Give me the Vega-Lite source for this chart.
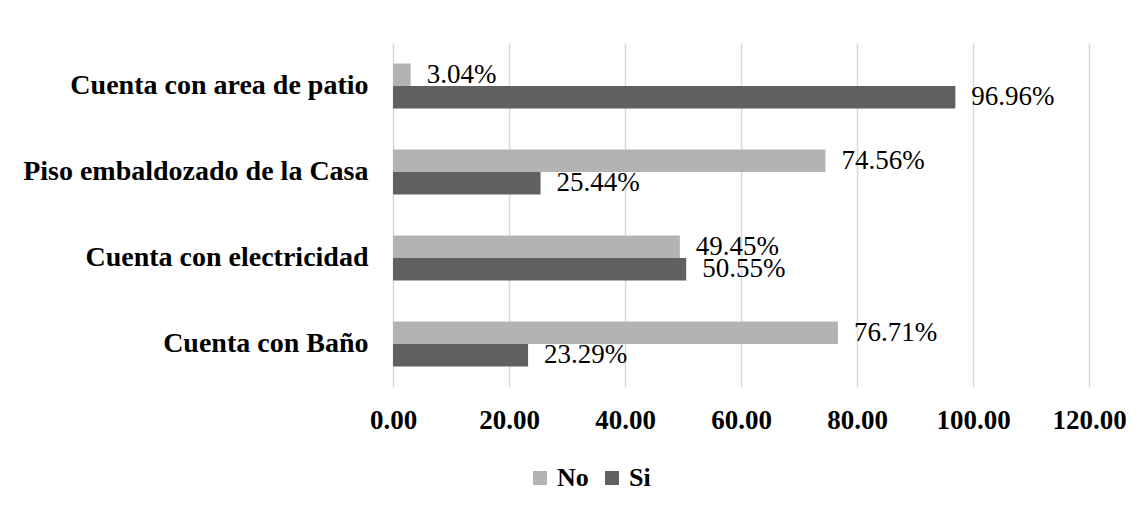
{
  "$schema": "https://vega.github.io/schema/vega-lite/v6.json",
  "width": 696,
  "height": 344,
  "autosize": {"type": "none"},
  "padding": {"left": 393, "top": 43, "right": 54, "bottom": 123},
  "background": "white",
  "config": {
    "view": {"stroke": null},
    "font": "Liberation Serif",
    "text": {"font": "'Liberation Serif', 'Times New Roman', serif"},
    "axis": {"labelFont": "Liberation Serif"},
    "legend": {"labelFont": "Liberation Serif"}
  },
  "data": {
    "values": [
      {"item": "Cuenta con area de patio", "respuesta": "No", "pct": 3.04},
      {"item": "Cuenta con area de patio", "respuesta": "Si", "pct": 96.96},
      {"item": "Piso embaldozado de la Casa", "respuesta": "No", "pct": 74.56},
      {"item": "Piso embaldozado de la Casa", "respuesta": "Si", "pct": 25.44},
      {"item": "Cuenta con electricidad", "respuesta": "No", "pct": 49.45},
      {"item": "Cuenta con electricidad", "respuesta": "Si", "pct": 50.55},
      {"item": "Cuenta con Baño", "respuesta": "No", "pct": 76.71},
      {"item": "Cuenta con Baño", "respuesta": "Si", "pct": 23.29}
    ]
  },
  "transform": [
    {"calculate": "format(datum.pct, '.2f') + '%'", "as": "etiqueta"}
  ],
  "encoding": {
    "y": {
      "field": "item",
      "type": "nominal",
      "sort": ["Cuenta con area de patio", "Piso embaldozado de la Casa", "Cuenta con electricidad", "Cuenta con Baño"],
      "scale": {"paddingInner": 0.477, "paddingOuter": 0.2385},
      "axis": {
        "title": null,
        "ticks": false,
        "domain": false,
        "labelFontSize": 28,
        "labelFontWeight": "bold",
        "labelColor": "#000000",
        "labelPadding": 25,
        "labelLimit": 400
      }
    },
    "yOffset": {"field": "respuesta", "type": "nominal", "sort": ["No", "Si"]},
    "x": {
      "field": "pct",
      "type": "quantitative",
      "scale": {"domain": [0, 120]},
      "axis": {
        "title": null,
        "values": [0, 20, 40, 60, 80, 100, 120],
        "format": ".2f",
        "grid": true,
        "gridColor": "#d9d9d9",
        "gridWidth": 1.5,
        "ticks": false,
        "domain": false,
        "labelFlush": false,
        "labelOverlap": false,
        "labelFontSize": 27,
        "labelFontWeight": "bold",
        "labelColor": "#000000",
        "labelPadding": 20
      }
    }
  },
  "layer": [
    {
      "mark": {"type": "bar"},
      "encoding": {
        "color": {
          "field": "respuesta",
          "type": "nominal",
          "scale": {"domain": ["No", "Si"], "range": ["#b3b3b3", "#606060"]},
          "legend": {
            "title": null,
            "orient": "none",
            "legendX": 134,
            "legendY": 422,
            "direction": "horizontal",
            "symbolType": "square",
            "symbolSize": 196,
            "symbolStrokeWidth": 0,
            "labelFontSize": 26,
            "labelFontWeight": "bold",
            "labelColor": "#000000",
            "columnPadding": 10,
            "labelOffset": 4
          }
        }
      }
    },
    {
      "mark": {"type": "text", "align": "left", "baseline": "middle", "dx": 16, "font": "'Liberation Serif', 'Times New Roman', serif", "fontWeight": "normal", "fontSize": 27, "color": "#000000"},
      "encoding": {"text": {"field": "etiqueta"}}
    }
  ]
}
